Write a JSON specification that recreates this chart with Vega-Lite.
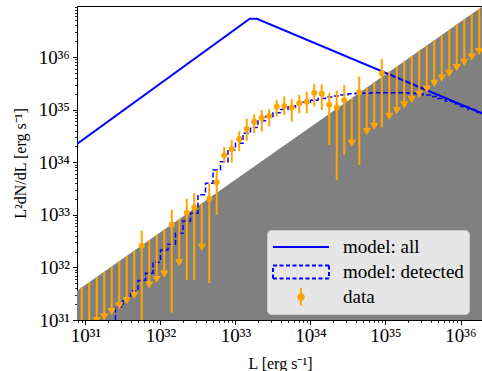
{
  "$schema": "https://vega.github.io/schema/vega-lite/v6.json",
  "width": 406,
  "height": 314,
  "autosize": {"type": "none"},
  "padding": {"left": 77, "top": 6, "right": 0, "bottom": 51},
  "background": "white",
  "config": {
    "font": "Liberation Serif",
    "view": {"stroke": "black", "strokeWidth": 1},
    "axis": {
      "domain": false, "grid": false,
      "labelFont": "Liberation Serif", "labelFontSize": 19, "labelColor": "black",
      "tickColor": "black",
      "titleFont": "Liberation Serif", "titleFontSize": 16, "titleFontWeight": "normal", "titleColor": "black",
      "labelOverlap": false, "labelFlush": false, "labelBound": false
    }
  },
  "datasets": {
    "thr": [
      {"L": 7.709e30, "thr": 3.606e31, "floor": 1e30},
      {"L": 1.995e36, "thr": 9.333e36, "floor": 1e30}
    ],
    "all": [
      {"L": 7.709e30, "v": 2.218e34},
      {"L": 1.549e33, "v": 5.346e36},
      {"L": 1.928e33, "v": 5.346e36},
      {"L": 1.995e36, "v": 8.299e34}
    ],
    "det": [
      {"L": 1.995e31, "v": 1e30},
      {"L": 2.512e31, "v": 1.778e31},
      {"L": 3.162e31, "v": 2.512e31},
      {"L": 3.981e31, "v": 3.548e31},
      {"L": 5.012e31, "v": 5.623e31},
      {"L": 6.310e31, "v": 7.762e31},
      {"L": 7.943e31, "v": 1.259e32},
      {"L": 1.000e32, "v": 2.138e32},
      {"L": 1.259e32, "v": 2.754e32},
      {"L": 1.585e32, "v": 4.467e32},
      {"L": 1.995e32, "v": 7.586e32},
      {"L": 2.512e32, "v": 1.072e33},
      {"L": 3.162e32, "v": 2.399e33},
      {"L": 3.981e32, "v": 3.981e33},
      {"L": 5.012e32, "v": 7.079e33},
      {"L": 6.310e32, "v": 1.023e34},
      {"L": 7.943e32, "v": 1.698e34},
      {"L": 1.000e33, "v": 2.291e34},
      {"L": 1.259e33, "v": 3.548e34},
      {"L": 1.585e33, "v": 4.571e34},
      {"L": 1.995e33, "v": 6.166e34},
      {"L": 2.512e33, "v": 7.413e34},
      {"L": 3.162e33, "v": 8.710e34},
      {"L": 3.981e33, "v": 1.000e35},
      {"L": 5.012e33, "v": 1.122e35},
      {"L": 6.310e33, "v": 1.259e35},
      {"L": 7.943e33, "v": 1.380e35},
      {"L": 1.000e34, "v": 1.514e35},
      {"L": 1.259e34, "v": 1.622e35},
      {"L": 1.585e34, "v": 1.738e35},
      {"L": 1.995e34, "v": 1.820e35},
      {"L": 2.512e34, "v": 1.905e35},
      {"L": 3.162e34, "v": 1.995e35},
      {"L": 3.981e34, "v": 2.042e35},
      {"L": 5.012e34, "v": 2.042e35},
      {"L": 6.310e34, "v": 2.089e35},
      {"L": 7.943e34, "v": 2.089e35},
      {"L": 1.000e35, "v": 2.089e35},
      {"L": 1.259e35, "v": 2.089e35},
      {"L": 1.585e35, "v": 2.089e35},
      {"L": 1.995e35, "v": 2.042e35},
      {"L": 2.512e35, "v": 1.995e35},
      {"L": 3.162e35, "v": 1.905e35},
      {"L": 3.981e35, "v": 1.778e35},
      {"L": 5.012e35, "v": 1.622e35},
      {"L": 6.310e35, "v": 1.445e35},
      {"L": 7.943e35, "v": 1.288e35},
      {"L": 1.000e36, "v": 1.148e35},
      {"L": 1.259e36, "v": 1.000e35},
      {"L": 1.585e36, "v": 8.913e34},
      {"L": 1.995e36, "v": 8.913e34}
    ],
    "pts": [
      {"L": 8.913e30, "lo": 6.166e30, "hi": 4.169e31, "kind": "ul"},
      {"L": 1.122e31, "lo": 7.762e30, "hi": 5.248e31, "kind": "ul"},
      {"L": 1.413e31, "lo": 9.772e30, "hi": 6.607e31, "kind": "ul"},
      {"L": 1.778e31, "lo": 1.148e31, "hi": 8.318e31, "kind": "ul"},
      {"L": 2.239e31, "lo": 1.445e31, "hi": 1.047e32, "kind": "ul"},
      {"L": 2.818e31, "lo": 1.862e31, "hi": 1.318e32, "kind": "ul"},
      {"L": 3.548e31, "lo": 2.344e31, "hi": 1.660e32, "kind": "ul"},
      {"L": 4.467e31, "lo": 2.951e31, "hi": 2.089e32, "kind": "ul"},
      {"L": 5.623e31, "y": 2.570e32, "lo": 6.310e30, "hi": 5.012e32, "kind": "det"},
      {"L": 7.079e31, "lo": 4.677e31, "hi": 3.311e32, "kind": "ul"},
      {"L": 8.913e31, "lo": 5.888e31, "hi": 4.169e32, "kind": "ul"},
      {"L": 1.122e32, "lo": 7.413e31, "hi": 5.248e32, "kind": "ul"},
      {"L": 1.413e32, "y": 6.457e32, "lo": 1.380e31, "hi": 1.259e33, "kind": "det"},
      {"L": 1.778e32, "lo": 1.230e32, "hi": 8.318e32, "kind": "ul"},
      {"L": 2.239e32, "y": 1.096e33, "lo": 5.754e31, "hi": 2.042e33, "kind": "det"},
      {"L": 2.818e32, "y": 1.380e33, "lo": 5.754e31, "hi": 2.570e33, "kind": "det"},
      {"L": 3.548e32, "lo": 2.399e32, "hi": 1.660e33, "kind": "ul"},
      {"L": 4.467e32, "y": 2.042e33, "lo": 5.012e31, "hi": 3.981e33, "kind": "det"},
      {"L": 5.623e32, "y": 4.169e33, "lo": 1.000e33, "hi": 7.079e33, "kind": "det"},
      {"L": 7.079e32, "y": 1.349e34, "lo": 9.550e33, "hi": 1.950e34, "kind": "det"},
      {"L": 8.913e32, "y": 1.778e34, "lo": 9.772e33, "hi": 2.630e34, "kind": "det"},
      {"L": 1.122e33, "y": 2.754e34, "lo": 1.622e34, "hi": 3.890e34, "kind": "det"},
      {"L": 1.413e33, "y": 4.266e34, "lo": 2.570e34, "hi": 6.761e34, "kind": "det"},
      {"L": 1.778e33, "y": 5.888e34, "lo": 3.548e34, "hi": 8.128e34, "kind": "det"},
      {"L": 2.239e33, "y": 6.918e34, "lo": 3.802e34, "hi": 9.772e34, "kind": "det"},
      {"L": 2.818e33, "y": 7.586e34, "lo": 4.786e34, "hi": 1.023e35, "kind": "det"},
      {"L": 3.548e33, "y": 1.148e35, "lo": 7.413e34, "hi": 1.514e35, "kind": "det"},
      {"L": 4.467e33, "y": 1.175e35, "lo": 7.943e34, "hi": 1.778e35, "kind": "det"},
      {"L": 5.623e33, "y": 1.096e35, "lo": 5.888e34, "hi": 1.585e35, "kind": "det"},
      {"L": 7.079e33, "y": 1.318e35, "lo": 8.511e34, "hi": 1.905e35, "kind": "det"},
      {"L": 8.913e33, "y": 1.413e35, "lo": 8.511e34, "hi": 2.188e35, "kind": "det"},
      {"L": 1.122e34, "y": 2.089e35, "lo": 1.148e35, "hi": 3.090e35, "kind": "det"},
      {"L": 1.413e34, "y": 1.995e35, "lo": 9.772e34, "hi": 3.020e35, "kind": "det"},
      {"L": 1.778e34, "y": 1.230e35, "lo": 2.138e34, "hi": 2.089e35, "kind": "det"},
      {"L": 2.239e34, "y": 1.096e35, "lo": 4.571e33, "hi": 2.291e35, "kind": "det"},
      {"L": 2.818e34, "y": 1.514e35, "lo": 1.380e34, "hi": 2.951e35, "kind": "det"},
      {"L": 3.548e34, "lo": 2.291e34, "hi": 1.660e35, "kind": "ul"},
      {"L": 4.467e34, "y": 2.138e35, "lo": 8.913e33, "hi": 4.266e35, "kind": "det"},
      {"L": 5.623e34, "lo": 3.802e34, "hi": 2.630e35, "kind": "ul"},
      {"L": 7.079e34, "lo": 4.786e34, "hi": 3.311e35, "kind": "ul"},
      {"L": 8.913e34, "y": 4.898e35, "lo": 4.571e34, "hi": 9.120e35, "kind": "det"},
      {"L": 1.122e35, "lo": 7.413e34, "hi": 5.248e35, "kind": "ul"},
      {"L": 1.413e35, "lo": 9.550e34, "hi": 6.607e35, "kind": "ul"},
      {"L": 1.778e35, "lo": 1.230e35, "hi": 8.318e35, "kind": "ul"},
      {"L": 2.239e35, "lo": 1.549e35, "hi": 1.047e36, "kind": "ul"},
      {"L": 2.818e35, "lo": 1.950e35, "hi": 1.318e36, "kind": "ul"},
      {"L": 3.548e35, "lo": 2.455e35, "hi": 1.660e36, "kind": "ul"},
      {"L": 4.467e35, "lo": 3.162e35, "hi": 2.089e36, "kind": "ul"},
      {"L": 5.623e35, "lo": 3.981e35, "hi": 2.630e36, "kind": "ul"},
      {"L": 7.079e35, "lo": 4.898e35, "hi": 3.311e36, "kind": "ul"},
      {"L": 8.913e35, "lo": 6.310e35, "hi": 4.169e36, "kind": "ul"},
      {"L": 1.122e36, "lo": 7.943e35, "hi": 5.248e36, "kind": "ul"},
      {"L": 1.413e36, "lo": 1.000e36, "hi": 6.607e36, "kind": "ul"},
      {"L": 1.778e36, "lo": 1.259e36, "hi": 8.318e36, "kind": "ul"}
    ]
  },
  "layer": [
    {
      "data": {"name": "thr"},
      "mark": {"type": "area", "color": "#808080", "opacity": 1, "clip": true},
      "encoding": {
        "x": {
          "field": "L", "type": "quantitative",
          "scale": {"type": "log", "domain": [7.709e30, 1.995e36], "nice": false},
          "axis": {
            "title": "L [erg s⁻¹]",
            "values": [8e30, 9e30, 1e31, 2e31, 3e31, 4e31, 5e31, 6e31, 7e31, 8e31, 9e31, 1e32, 2e32, 3e32, 4e32, 5e32, 6e32, 7e32, 8e32, 9e32, 1e33, 2e33, 3e33, 4e33, 5e33, 6e33, 7e33, 8e33, 9e33, 1e34, 2e34, 3e34, 4e34, 5e34, 6e34, 7e34, 8e34, 9e34, 1e35, 2e35, 3e35, 4e35, 5e35, 6e35, 7e35, 8e35, 9e35, 1e36],
            "labelExpr": "abs(log(datum.value)/LN10 - round(log(datum.value)/LN10)) < 0.01 ? '10' + ['⁰','¹','²','³','⁴','⁵','⁶','⁷','⁸','⁹'][floor(round(log(datum.value)/LN10)/10)] + ['⁰','¹','²','³','⁴','⁵','⁶','⁷','⁸','⁹'][round(log(datum.value)/LN10) % 10] : ''",
            "tickSize": {"condition": {"test": "abs(log(datum.value)/LN10 - round(log(datum.value)/LN10)) < 0.01", "value": 4.5}, "value": 2.5},
            "tickWidth": {"condition": {"test": "abs(log(datum.value)/LN10 - round(log(datum.value)/LN10)) < 0.01", "value": 1}, "value": 0.8},
            "labelPadding": 2,
            "titlePadding": 10
          }
        },
        "y": {
          "field": "thr", "type": "quantitative",
          "scale": {"type": "log", "domain": [1e31, 9.325e36], "nice": false},
          "axis": {
            "title": "L²dN/dL [erg s⁻¹]",
            "values": [1e31, 2e31, 3e31, 4e31, 5e31, 6e31, 7e31, 8e31, 9e31, 1e32, 2e32, 3e32, 4e32, 5e32, 6e32, 7e32, 8e32, 9e32, 1e33, 2e33, 3e33, 4e33, 5e33, 6e33, 7e33, 8e33, 9e33, 1e34, 2e34, 3e34, 4e34, 5e34, 6e34, 7e34, 8e34, 9e34, 1e35, 2e35, 3e35, 4e35, 5e35, 6e35, 7e35, 8e35, 9e35, 1e36, 2e36, 3e36, 4e36, 5e36, 6e36, 7e36, 8e36, 9e36],
            "labelExpr": "abs(log(datum.value)/LN10 - round(log(datum.value)/LN10)) < 0.01 ? '10' + ['⁰','¹','²','³','⁴','⁵','⁶','⁷','⁸','⁹'][floor(round(log(datum.value)/LN10)/10)] + ['⁰','¹','²','³','⁴','⁵','⁶','⁷','⁸','⁹'][round(log(datum.value)/LN10) % 10] : ''",
            "tickSize": {"condition": {"test": "abs(log(datum.value)/LN10 - round(log(datum.value)/LN10)) < 0.01", "value": 4.5}, "value": 2.5},
            "tickWidth": {"condition": {"test": "abs(log(datum.value)/LN10 - round(log(datum.value)/LN10)) < 0.01", "value": 1}, "value": 0.8},
            "labelPadding": 3,
            "titlePadding": 10
          }
        },
        "y2": {"field": "floor"}
      }
    },
    {
      "data": {"name": "all"},
      "mark": {"type": "line", "strokeWidth": 2, "clip": true},
      "encoding": {
        "x": {"field": "L", "type": "quantitative"},
        "y": {"field": "v", "type": "quantitative"},
        "color": {
          "datum": "model: all", "type": "nominal",
          "scale": {"domain": ["model: all", "model: detected", "data"], "range": ["#0000ff", "#0000ff", "#ffa500"]},
          "legend": {
            "title": null,
            "orient": "none", "legendX": 190, "legendY": 224,
            "padding": 5, "cornerRadius": 4,
            "fillColor": "#e6e6e6", "strokeColor": "#cccccc",
            "labelFont": "Liberation Serif", "labelFontSize": 19, "labelColor": "black",
            "symbolSize": 3136, "symbolStrokeWidth": 2,
            "clipHeight": 24, "rowPadding": 1, "labelOffset": 13,
            "encode": {
              "symbols": {
                "update": {
                  "size": {"value": 3136},
                  "shape": {"signal": "datum.value === 'model: all' ? 'M-1,0L1,0' : datum.value === 'model: detected' ? 'M-1,-0.232L1,-0.232M1,-0.232L1,0.232M1,0.232L-1,0.232M-1,0.232L-1,-0.232' : 'M0,-0.31L0,0.31M0.1,0A0.1,0.1,0,1,1,-0.1,0A0.1,0.1,0,1,1,0.1,0Z'"},
                  "stroke": {"signal": "datum.value === 'data' ? '#ffa500' : '#0000ff'"},
                  "strokeDash": {"signal": "datum.value === 'model: detected' ? [4, 2.5] : [1, 0]"},
                  "opacity": {"value": 1}
                }
              }
            }
          }
        }
      }
    },
    {
      "data": {"name": "det"},
      "mark": {"type": "line", "strokeWidth": 1.5, "strokeDash": [5, 2.5], "interpolate": "step-after", "clip": true},
      "encoding": {
        "x": {"field": "L", "type": "quantitative"},
        "y": {"field": "v", "type": "quantitative"},
        "color": {"datum": "model: detected", "type": "nominal"}
      }
    },
    {
      "data": {"name": "pts"},
      "mark": {"type": "rule", "strokeWidth": 2, "clip": true},
      "encoding": {
        "x": {"field": "L", "type": "quantitative"},
        "y": {"field": "lo", "type": "quantitative"},
        "y2": {"field": "hi"},
        "color": {"datum": "data", "type": "nominal"}
      }
    },
    {
      "data": {"name": "pts"},
      "transform": [{"filter": "datum.kind === 'det'"}],
      "mark": {"type": "point", "shape": "circle", "filled": true, "size": 36, "opacity": 1, "clip": true},
      "encoding": {
        "x": {"field": "L", "type": "quantitative"},
        "y": {"field": "y", "type": "quantitative"},
        "color": {"datum": "data", "type": "nominal"}
      }
    },
    {
      "data": {"name": "pts"},
      "transform": [{"filter": "datum.kind === 'ul'"}],
      "mark": {"type": "point", "shape": "triangle-down", "filled": true, "size": 70, "opacity": 1, "clip": true},
      "encoding": {
        "x": {"field": "L", "type": "quantitative"},
        "y": {"field": "lo", "type": "quantitative"},
        "color": {"datum": "data", "type": "nominal"}
      }
    }
  ]
}
